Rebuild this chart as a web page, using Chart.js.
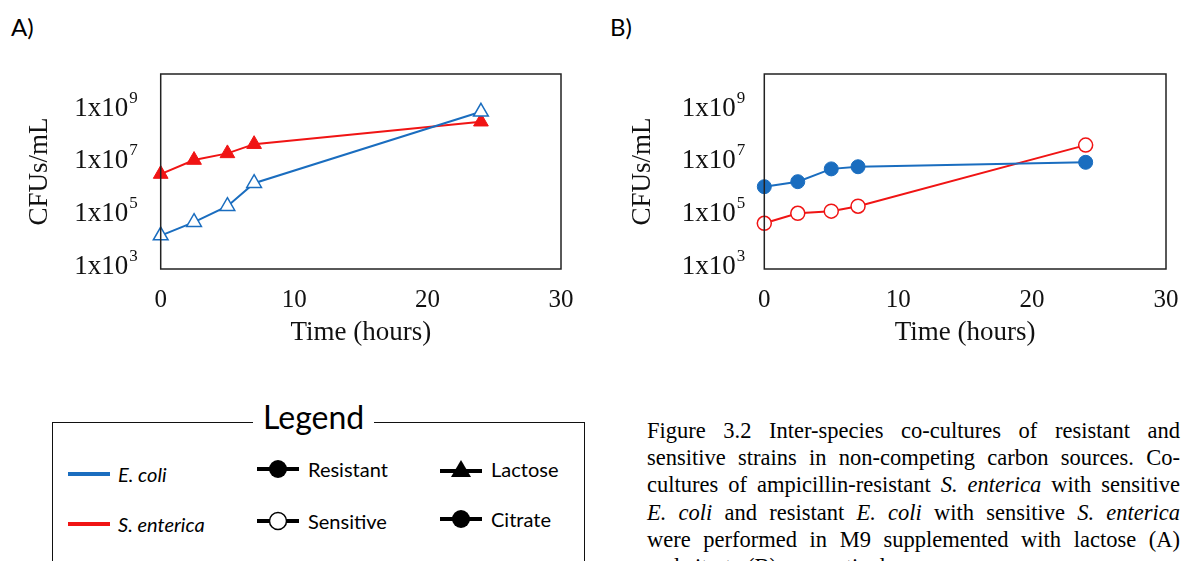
<!DOCTYPE html>
<html>
<head>
<meta charset="utf-8">
<script src="https://cdn.jsdelivr.net/npm/chart.js@4.4.0/dist/chart.umd.min.js"></script>
<style>
  html, body { margin: 0; padding: 0; background: #fff; }
  body { width: 1186px; height: 561px; position: relative; overflow: hidden; }
  canvas { position: absolute; top: 0; }
  #chartA { left: 0; }
  #chartB { left: 600px; }
  .panel { position: absolute; font-family: Lato, "Liberation Sans", sans-serif; font-size: 24px; color: #000; }
  #legend { position: absolute; left: 52px; top: 422px; width: 531px; height: 200px; border: 1.5px solid #111; }
  #legend .ttl { position: absolute; left: 200px; top: -26px; padding: 0 10px; background: #fff;
                 font-family: Lato, "Liberation Sans", sans-serif; font-size: 32px; line-height: 40px; }
  .item { position: absolute; font-family: Lato, "Liberation Sans", sans-serif; font-size: 20px; line-height: 24px; display: flex; align-items: center; }
  .item svg { margin-right: 6px; }
  #caption { position: absolute; left: 647px; top: 417px; width: 533px;
             font-family: "Liberation Serif", "Times New Roman", serif; font-size: 22.5px; line-height: 27.2px; }
  #caption span { display: block; text-align: justify; text-align-last: justify; white-space: nowrap; }
  #caption span.last { text-align-last: left; }
</style>
</head>
<body>
<div class="panel" style="left:11px; top:12px;">A)</div>
<div class="panel" style="left:610px; top:12px;">B)</div>

<canvas id="chartA" width="600" height="370"></canvas>
<canvas id="chartB" width="586" height="370"></canvas>

<div id="legend">
  <div class="ttl">Legend</div>
  <div class="item" style="left:15px; top:39px;">
    <svg width="44" height="10"><line x1="0" y1="5" x2="42" y2="5" stroke="#1a6dbf" stroke-width="4"/></svg><i>E. coli</i>
  </div>
  <div class="item" style="left:15px; top:89px;">
    <svg width="44" height="10"><line x1="0" y1="5" x2="42" y2="5" stroke="#f01414" stroke-width="4"/></svg><i>S. enterica</i>
  </div>
  <div class="item" style="left:203px; top:34px;">
    <svg width="46" height="22"><line x1="1" y1="11" x2="43" y2="11" stroke="#000" stroke-width="4"/><circle cx="22" cy="11" r="9" fill="#000"/></svg>Resistant
  </div>
  <div class="item" style="left:203px; top:86px;">
    <svg width="46" height="22"><line x1="1" y1="11" x2="43" y2="11" stroke="#000" stroke-width="4"/><circle cx="22" cy="11" r="8.5" fill="#fff" stroke="#000" stroke-width="1.5"/></svg>Sensitive
  </div>
  <div class="item" style="left:386px; top:34px;">
    <svg width="46" height="22"><line x1="1" y1="13" x2="43" y2="13" stroke="#000" stroke-width="4"/><polygon points="22,2 32,19 12,19" fill="#000"/></svg>Lactose
  </div>
  <div class="item" style="left:386px; top:84px;">
    <svg width="46" height="22"><line x1="1" y1="11" x2="43" y2="11" stroke="#000" stroke-width="4"/><circle cx="22" cy="11" r="9" fill="#000"/></svg>Citrate
  </div>
</div>

<div id="caption">
  <span>Figure 3.2 Inter-species co-cultures of resistant and</span>
  <span>sensitive strains in non-competing carbon sources. Co-</span>
  <span>cultures of ampicillin-resistant <i>S. enterica</i> with sensitive</span>
  <span><i>E. coli</i> and resistant <i>E. coli</i> with sensitive <i>S. enterica</i></span>
  <span>were performed in M9 supplemented with lactose (A)</span>
  <span class="last">and citrate (B), respectively.</span>
</div>

<script>
// sampling times (hours)
const hours = [0, 2.5, 5, 7, 24];

// A) lactose: sensitive E. coli + resistant S. enterica (CFUs/mL)
const lactoseEcoli = [1.3e4, 4.2e4, 1.7e5, 1.26e6, 6.4e8];
const lactoseSenterica = [2.8e6, 9.5e6, 1.7e7, 3.8e7, 2.7e8];

// B) citrate: resistant E. coli + sensitive S. enterica (CFUs/mL)
const citrateEcoli = [9.3e5, 1.44e6, 4.4e6, 5.3e6, 7.8e6];
const citrateSenterica = [3.8e4, 9.1e4, 1.1e5, 1.7e5, 3.5e7];

const xTicks = [0, 10, 20, 30];
const yExponents = [3, 5, 7, 9];

const BLUE = '#1a6dbf';
const RED = '#f01414';
const SERIF = '"Liberation Serif", "Times New Roman", serif';

function pts(ys) {
  return hours.map((h, i) => ({ x: h, y: ys[i] }));
}

// frame, tick labels with superscripts and axis titles
const axisPlugin = {
  id: 'axisDecor',
  afterDraw(chart) {
    const ctx = chart.ctx;
    const a = chart.chartArea;
    const xs = chart.scales.x, ys = chart.scales.y;
    ctx.save();
    ctx.strokeStyle = '#222';
    ctx.lineWidth = 1.5;
    ctx.strokeRect(a.left, a.top, a.right - a.left, a.bottom - a.top);

    ctx.fillStyle = '#111';
    const gap = chart.options.plugins.axisDecor.labelGap;
    yExponents.forEach(e => {
      const y = ys.getPixelForValue(Math.pow(10, e));
      ctx.font = '17px ' + SERIF;
      const sw = ctx.measureText(String(e)).width;
      ctx.font = '27px ' + SERIF;
      const bw = ctx.measureText('1x10').width;
      const right = a.left - gap;
      ctx.textAlign = 'left';
      ctx.textBaseline = 'alphabetic';
      ctx.fillText('1x10', right - sw - bw, y + 9);
      ctx.font = '17px ' + SERIF;
      ctx.fillText(String(e), right - sw + 1, y - 4);
    });

    ctx.font = '25px ' + SERIF;
    ctx.textAlign = 'center';
    ctx.textBaseline = 'middle';
    xTicks.forEach(t => {
      ctx.fillText(String(t), xs.getPixelForValue(t), a.bottom + 31);
    });

    ctx.font = '27px ' + SERIF;
    ctx.fillText('Time (hours)', (a.left + a.right) / 2, a.bottom + 64);

    ctx.translate(a.left - 121, (a.top + a.bottom) / 2);
    ctx.rotate(-Math.PI / 2);
    ctx.fillText('CFUs/mL', 0, 0);
    ctx.restore();
  }
};

function makeChart(id, padLeft, padRight, labelGap, datasets) {
  return new Chart(document.getElementById(id), {
    type: 'line',
    data: { datasets },
    options: {
      responsive: false,
      animation: false,
      layout: { padding: { left: padLeft, right: padRight, top: 74, bottom: 101 } },
      scales: {
        x: { type: 'linear', min: 0, max: 30, display: false },
        y: { type: 'logarithmic', min: Math.pow(10, 2.848), max: Math.pow(10, 10.24), display: false }
      },
      plugins: {
        legend: { display: false },
        tooltip: { enabled: false },
        axisDecor: { labelGap }
      }
    },
    plugins: [axisPlugin]
  });
}

makeChart('chartA', 160.7, 39, 24, [
  {
    data: pts(lactoseEcoli), borderColor: BLUE, borderWidth: 2,
    pointStyle: 'triangle', pointRadius: 8.5, pointBackgroundColor: '#fff',
    pointBorderColor: BLUE, pointBorderWidth: 1.5, clip: false, tension: 0
  },
  {
    data: pts(lactoseSenterica), borderColor: RED, borderWidth: 2,
    pointStyle: 'triangle', pointRadius: 8.5, pointBackgroundColor: RED,
    pointBorderColor: RED, pointBorderWidth: 1, clip: false, tension: 0
  }
]);

makeChart('chartB', 164.3, 20, 20, [
  {
    data: pts(citrateEcoli), borderColor: BLUE, borderWidth: 2,
    pointStyle: 'circle', pointRadius: 7, pointBackgroundColor: BLUE,
    pointBorderColor: BLUE, pointBorderWidth: 1, clip: false, tension: 0
  },
  {
    data: pts(citrateSenterica), borderColor: RED, borderWidth: 2,
    pointStyle: 'circle', pointRadius: 7, pointBackgroundColor: '#fff',
    pointBorderColor: RED, pointBorderWidth: 1.5, clip: false, tension: 0
  }
]);
</script>
</body>
</html>
